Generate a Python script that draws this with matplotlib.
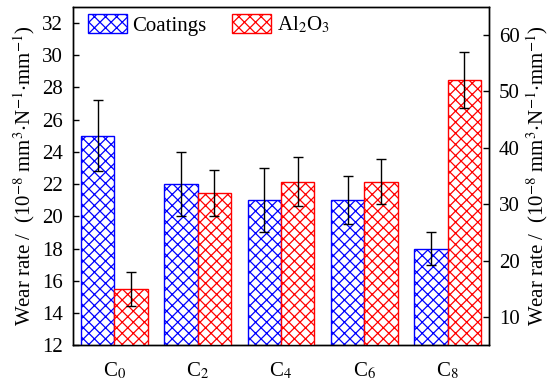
import numpy as np
import matplotlib
matplotlib.use("Agg")
import matplotlib.pyplot as plt
from matplotlib.patches import Patch

plt.rcParams['font.family'] = ['Liberation Serif', 'DejaVu Serif']
plt.rcParams['mathtext.fontset'] = 'stix'
plt.rcParams['hatch.linewidth'] = 0.9

samples = ["C$_0$", "C$_2$", "C$_4$", "C$_6$", "C$_8$"]
coatings = [25, 22, 21, 21, 18]
coatings_err = [2.2, 2.0, 2.0, 1.5, 1.0]
al2o3 = [15, 32, 34, 34, 52]
al2o3_err = [3.0, 4.0, 4.4, 4.0, 5.0]

ylabel = "Wear rate /  (10$^{-8}$ mm$^{3}$$\\cdot$N$^{-1}$$\\cdot$mm$^{-1}$)"

fig = plt.figure(figsize=(5.49, 3.80), dpi=100)
ax1 = fig.add_axes([0.1324, 0.0913, 0.7589, 0.8911])
ax2 = ax1.twinx()

x = np.arange(len(samples))
w = 0.4
ekw = dict(ecolor='black', elinewidth=1.0, capsize=3.5, capthick=1.0)

ax1.bar(x - w/2, coatings, w, yerr=coatings_err, color='white', edgecolor='blue',
        hatch='xxx', linewidth=1.0, error_kw=ekw)
ax2.bar(x + w/2, al2o3, w, yerr=al2o3_err, color='white', edgecolor='red',
        hatch='xxx', linewidth=1.0, error_kw=ekw)

ax1.set_xlim(-0.5, 4.5)
ax1.set_ylim(12, 33)
ax1.set_yticks(range(12, 33, 2))
ax2.set_ylim(5, 65)
ax2.set_yticks(range(10, 61, 10))
ax1.set_xticks(x)
ax1.set_xticklabels(samples)

for a in (ax1, ax2):
    a.tick_params(direction='in', length=4, width=1.0, labelsize=15, pad=7)
    for s in a.spines.values():
        s.set_linewidth(1.0)
ax1.tick_params(axis='x', length=0, pad=11)

ax1.set_ylabel(ylabel, fontsize=15, labelpad=4)
ax2.set_ylabel(ylabel, fontsize=15, labelpad=3)

handles = [Patch(facecolor='white', edgecolor='blue', hatch='xxx', label='Coatings'),
           Patch(facecolor='white', edgecolor='red', hatch='xxx', label='Al$_2$O$_3$')]
ax1.legend(handles=handles, loc='upper left', bbox_to_anchor=(0.037, 0.978), ncol=2,
           frameon=False, fontsize=15, borderpad=0, borderaxespad=0,
           handlelength=1.87, handleheight=1.0, handletextpad=0.26, columnspacing=1.23)

fig.savefig("out.png", dpi=100)
